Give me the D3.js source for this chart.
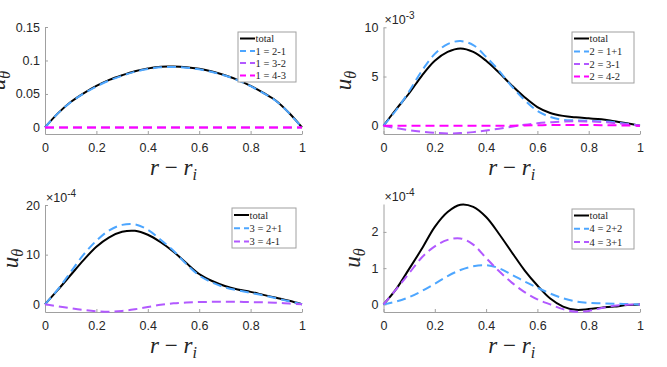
<!DOCTYPE html>
<html>
<head>
<meta charset="utf-8">
<script src="https://cdn.jsdelivr.net/npm/d3@7"></script>
<style>
  body { margin: 0; background: #fff; }
  svg { display: block; }
</style>
</head>
<body>
<div class="canvas"></div>
<script>
// radial coordinate r - r_i
const r = [0, 0.05, 0.1, 0.15, 0.2, 0.25, 0.3, 0.35, 0.4, 0.45, 0.5,
           0.55, 0.6, 0.65, 0.7, 0.75, 0.8, 0.85, 0.9, 0.95, 1]

// panel 1 (plain units)
const total1 = [0, 0.021, 0.038, 0.051, 0.062, 0.071, 0.078, 0.084, 0.088, 0.0908, 0.091,
                0.090, 0.0875, 0.0835, 0.078, 0.071, 0.062, 0.0515, 0.0395, 0.0215, 0]
const m1_21 = [0, 0.021, 0.0375, 0.0505, 0.0612, 0.0702, 0.0772, 0.0832, 0.0872, 0.0898, 0.0902,
               0.0893, 0.0868, 0.0828, 0.0775, 0.0705, 0.0616, 0.0512, 0.0392, 0.0213, 0]
const m1_32 = [0, 0, 0, 0, 0, 0, 0, 0, 0, 0, 0, 0, 0, 0, 0, 0, 0, 0, 0, 0, 0]
const m1_43 = [0, 0, 0, 0, 0, 0, 0, 0, 0, 0, 0, 0, 0, 0, 0, 0, 0, 0, 0, 0, 0]

// panel 2 (x 1e-3)
const total2 = [0, 1.7, 3.3, 5.1, 6.6, 7.5, 7.85, 7.5, 6.6, 5.4, 4.1,
                2.9, 1.9, 1.3, 1.0, 0.85, 0.75, 0.65, 0.45, 0.25, 0]
const m2_11 = [0, 1.6, 3.5, 5.6, 7.3, 8.3, 8.6, 8.2, 7.0, 5.6, 4.0,
               2.6, 1.5, 0.9, 0.6, 0.55, 0.5, 0.45, 0.35, 0.2, 0]
const m2_31 = [0, -0.25, -0.45, -0.6, -0.72, -0.78, -0.75, -0.65, -0.48, -0.3, -0.1,
               0.1, 0.25, 0.35, 0.42, 0.45, 0.43, 0.38, 0.28, 0.15, 0]
const m2_42 = [0, 0, 0, 0, 0, 0, 0, 0, 0, 0, 0.01,
               0.03, 0.05, 0.07, 0.08, 0.08, 0.07, 0.06, 0.04, 0.02, 0]

// panel 3 (x 1e-4)
const total3 = [0, 2.9, 5.9, 8.9, 11.6, 13.5, 14.6, 14.8, 14.0, 12.5, 10.6,
                8.3, 6.1, 4.7, 3.7, 3.0, 2.5, 1.9, 1.3, 0.7, 0]
const m3_21 = [0, 3.0, 6.5, 10.0, 12.8, 14.9, 16.0, 16.1, 15.0, 13.0, 10.8,
               8.1, 5.8, 4.4, 3.4, 2.8, 2.3, 1.8, 1.2, 0.6, 0]
const m3_41 = [0, -0.4, -0.8, -1.15, -1.4, -1.5, -1.35, -1.0, -0.55, -0.1, 0.2,
               0.35, 0.45, 0.5, 0.5, 0.5, 0.45, 0.4, 0.3, 0.15, 0]

// panel 4 (x 1e-4)
const total4 = [0, 0.43, 0.98, 1.54, 2.14, 2.55, 2.75, 2.69, 2.41, 1.95, 1.44,
                0.94, 0.52, 0.16, -0.06, -0.15, -0.13, -0.09, -0.06, -0.02, 0]
const m4_22 = [0, 0.08, 0.2, 0.37, 0.57, 0.78, 0.95, 1.05, 1.08, 1.0, 0.82,
               0.63, 0.46, 0.3, 0.17, 0.08, 0.04, 0.03, 0.02, 0.01, 0]
const m4_31 = [0, 0.42, 0.86, 1.3, 1.6, 1.78, 1.82, 1.65, 1.28, 0.92, 0.6,
               0.34, 0.14, 0.0, -0.13, -0.2, -0.18, -0.1, -0.04, -0.01, 0]

const xTicks = [0, 0.2, 0.4, 0.6, 0.8, 1]

const black = '#000000'
const blue = '#4da6ff'
const purple = '#b259ff'
const magenta = '#ff00ff'

const panels = [
    { left: 45, right: 302, top: 27, bottom: 134, ydom: [-0.0098, 0.15],
      yticks: [0, 0.05, 0.1, 0.15], exp: null, ylabX: 5,
      legend: { x: 238, y: 32, w: 58, h: 50, rows: [38.5, 51, 63, 75.5] },
      series: [
          { name: 'total', vals: total1, color: black },
          { name: '1 = 2-1', vals: m1_21, color: blue },
          { name: '1 = 3-2', vals: m1_32, color: purple },
          { name: '1 = 4-3', vals: m1_43, color: magenta }
      ] },
    { left: 383.5, right: 640, top: 27.3, bottom: 134, ydom: [-0.84, 10],
      yticks: [0, 5, 10], exp: '-3', ylabX: 351,
      legend: { x: 572, y: 32, w: 62, h: 51, rows: [38.5, 51.5, 64, 76.5] },
      series: [
          { name: 'total', vals: total2, color: black },
          { name: '2 = 1+1', vals: m2_11, color: blue },
          { name: '2 = 3-1', vals: m2_31, color: purple },
          { name: '2 = 4-2', vals: m2_42, color: magenta }
      ] },
    { left: 45, right: 302, top: 205, bottom: 312, ydom: [-1.55, 20],
      yticks: [0, 10, 20], exp: '-4', ylabX: 18,
      legend: { x: 232, y: 208, w: 64, h: 40, rows: [215, 228.3, 241.5] },
      series: [
          { name: 'total', vals: total3, color: black },
          { name: '3 = 2+1', vals: m3_21, color: blue },
          { name: '3 = 4-1', vals: m3_41, color: purple }
      ] },
    { left: 383.5, right: 640, top: 204, bottom: 312, ydom: [-0.21, 2.77],
      yticks: [0, 1, 2], exp: '-4', ylabX: 360,
      legend: { x: 572, y: 209, w: 62, h: 40, rows: [215.5, 228.7, 242] },
      series: [
          { name: 'total', vals: total4, color: black },
          { name: '4 = 2+2', vals: m4_22, color: blue },
          { name: '4 = 3+1', vals: m4_31, color: purple }
      ] }
]

const svg = d3.select('.canvas')
    .append('svg')
    .attr('width', 667)
    .attr('height', 367)

const fmt = d => String(+d.toFixed(4))

panels.forEach(p => {
    const x = d3.scaleLinear().domain([0, 1]).range([p.left, p.right])
    const y = d3.scaleLinear().domain(p.ydom).range([p.bottom, p.top])

    const g = svg.append('g')

    // axes, ticks pointing inward like matlab
    const xAxis = d3.axisBottom(x)
        .tickValues(xTicks)
        .tickFormat(fmt)
        .tickSizeInner(-3)
        .tickSizeOuter(0)
        .tickPadding(9)
    const yAxis = d3.axisLeft(y)
        .tickValues(p.yticks)
        .tickFormat(fmt)
        .tickSizeInner(-3)
        .tickSizeOuter(0)
        .tickPadding(5)

    const xg = g.append('g')
        .attr('transform', `translate(0, ${p.bottom})`)
        .call(xAxis)
    const yg = g.append('g')
        .attr('transform', `translate(${p.left}, 0)`)
        .call(yAxis)

    ;[xg, yg].forEach(ax => {
        ax.select('.domain').attr('stroke', '#a0a0a0')
        ax.selectAll('.tick line').attr('stroke', '#a0a0a0')
        ax.selectAll('.tick text')
            .attr('fill', '#262626')
            .style('font-family', '"Liberation Sans", Arial, sans-serif')
            .style('font-size', '12.5px')
    })

    // exponent
    if (p.exp) {
        const t = g.append('text')
            .attr('x', p.left + 1)
            .attr('y', p.top - 3.5)
            .attr('fill', '#262626')
            .style('font-family', '"Liberation Sans", Arial, sans-serif')
            .style('font-size', '12.5px')
        t.append('tspan').text('\u00d710')
        t.append('tspan').attr('dy', -5).style('font-size', '10px').text(p.exp)
    }

    // curves
    const line = d3.line()
        .x((d, i) => x(r[i]))
        .y(d => y(d))
        .curve(d3.curveCatmullRom.alpha(0.5))

    p.series.forEach((s, k) => {
        g.append('path')
            .datum(s.vals)
            .attr('d', line)
            .attr('fill', 'none')
            .attr('stroke', s.color)
            .attr('stroke-width', 2)
            .attr('stroke-dasharray', k === 0 ? null : '9,5')
    })

    // axis labels
    const cx = (p.left + p.right) / 2
    const xl = g.append('text')
        .attr('x', cx)
        .attr('y', p.bottom + 41)
        .attr('text-anchor', 'middle')
        .attr('fill', '#262626')
        .style('font-family', '"Liberation Serif", "Times New Roman", serif')
        .style('font-size', '23px')
    xl.append('tspan').style('font-style', 'italic').text('r')
    xl.append('tspan').text(' \u2212 ')
    xl.append('tspan').style('font-style', 'italic').text('r')
    xl.append('tspan').style('font-style', 'italic').style('font-size', '16px')
        .attr('dy', 5).text('i')

    const cy = (p.top + p.bottom) / 2
    const yl = g.append('text')
        .attr('transform', `translate(${p.ylabX}, ${cy}) rotate(-90)`)
        .attr('text-anchor', 'middle')
        .attr('fill', '#262626')
        .style('font-family', '"Liberation Serif", "Times New Roman", serif')
        .style('font-size', '23px')
    yl.append('tspan').style('font-style', 'italic').text('u')
    yl.append('tspan').style('font-style', 'italic').style('font-size', '16px')
        .attr('dy', 5).text('\u03b8')

    // legend
    const L = p.legend
    const lg = g.append('g')
    lg.append('rect')
        .attr('x', L.x).attr('y', L.y)
        .attr('width', L.w).attr('height', L.h)
        .attr('fill', '#fff')
        .attr('stroke', '#a0a0a0')
        .attr('stroke-width', 1)
    p.series.forEach((s, k) => {
        const ry = L.rows[k]
        lg.append('line')
            .attr('x1', L.x + 2).attr('x2', L.x + 17)
            .attr('y1', ry).attr('y2', ry)
            .attr('stroke', s.color)
            .attr('stroke-width', 2)
            .attr('stroke-dasharray', k === 0 ? null : '6,4')
        lg.append('text')
            .attr('x', L.x + 17.5)
            .attr('y', ry + 3.5)
            .attr('fill', '#262626')
            .style('font-family', '"Liberation Serif", "Times New Roman", serif')
            .style('font-size', '10.5px')
            .text(s.name)
    })
})
</script>
</body>
</html>
